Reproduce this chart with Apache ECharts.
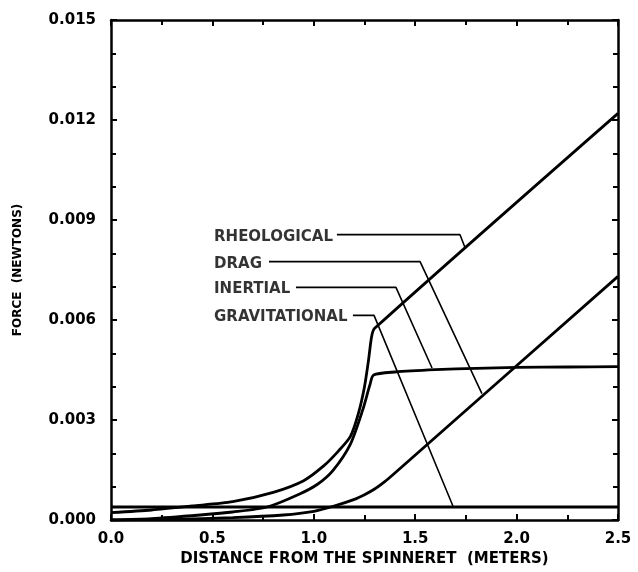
<!DOCTYPE html>
<html>
<head>
<meta charset="utf-8">
<script src="https://cdn.jsdelivr.net/npm/echarts@6/dist/echarts.min.js"></script>
<style>html,body{margin:0;padding:0;background:#fff}#c{width:638px;height:572px}</style>
</head>
<body>
<div id="c"></div>
<script>
// Distance (m) and force (N) for each curve
var rheoX = [0, 0.2, 0.4, 0.6, 0.8, 0.95, 1.05, 1.12, 1.18, 1.22, 1.25, 1.27, 1.285, 1.30, 2.5];
var rheoY = [0.00022, 0.00030, 0.00042, 0.00055, 0.00083, 0.00118, 0.00163, 0.00206, 0.00250, 0.00320, 0.00400, 0.00480, 0.00550, 0.00575, 0.01220];

var inerX = [0, 0.2, 0.44, 0.6, 0.77, 0.93, 1.02, 1.095, 1.18, 1.24, 1.277, 1.295, 1.4, 1.6, 1.8, 2.0, 2.25, 2.5];
var inerY = [0, 0.00004, 0.00015, 0.00024, 0.00039, 0.00078, 0.00108, 0.00149, 0.00227, 0.00328, 0.00406, 0.00435, 0.00444, 0.00451, 0.00455, 0.00458, 0.00459, 0.00460];

var dragX = [0, 0.3, 0.6, 0.85, 1.0, 1.1, 1.2, 1.25, 1.3, 1.35, 1.4, 2.5];
var dragY = [0, 0.00002, 0.00007, 0.00015, 0.00026, 0.00042, 0.00062, 0.00076, 0.00093, 0.00115, 0.00141, 0.00731];

var gravX = [0, 2.5];
var gravY = [0.00039, 0.00039];

// Annotation labels and leader lines (data coordinates)
var labelNames = ['RHEOLOGICAL', 'DRAG', 'INERTIAL', 'GRAVITATIONAL'];
var labelX = [0.508, 0.508, 0.508, 0.508];
var labelY = [0.00850, 0.00769, 0.00692, 0.00608];
var leaderX = [[1.114, 1.721, 1.746], [0.779, 1.524, 1.829], [0.912, 1.405, 1.583], [1.193, 1.297, 1.686]];
var leaderY = [[0.00856, 0.00856, 0.00817], [0.00775, 0.00775, 0.00379], [0.00698, 0.00698, 0.00456], [0.00614, 0.00614, 0.00042]];

var xTicks = [0.0, 0.5, 1.0, 1.5, 2.0, 2.5];
var yTicks = [0.000, 0.003, 0.006, 0.009, 0.012, 0.015];

function pairs(xs, ys) { return xs.map(function (x, i) { return [x, ys[i]]; }); }

var FONT = 'DejaVu Sans';
var chart = echarts.init(document.getElementById('c'), null, { renderer: 'canvas' });

var axisCommon = {
  type: 'value',
  axisLine: { show: true, onZero: false, lineStyle: { color: '#000', width: 2.5 } },
  axisTick: { show: true, inside: true, length: 6, lineStyle: { color: '#000', width: 2 } },
  splitLine: { show: false }
};

var series = [];
var curveStyle = { color: '#000', width: 2.8 };
[[rheoX, rheoY], [inerX, inerY], [dragX, dragY], [gravX, gravY]].forEach(function (c) {
  series.push({
    type: 'line', data: pairs(c[0], c[1]), showSymbol: false, symbol: 'none',
    smooth: 0.25, lineStyle: curveStyle, silent: true, animation: false
  });
});
leaderX.forEach(function (lx, i) {
  series.push({
    type: 'line', data: pairs(lx, leaderY[i]), symbol: 'none', smooth: false,
    lineStyle: { color: '#000', width: 1.6 }, silent: true, animation: false
  });
});
series.push({
  type: 'scatter', symbolSize: 0, animation: false, silent: true,
  data: labelNames.map(function (n, i) { return { value: [labelX[i], labelY[i]], name: n }; }),
  label: {
    show: true, position: 'right', distance: 0, formatter: '{b}',
    fontFamily: FONT, fontWeight: 'bold', fontSize: 15, color: '#000'
  }
});

chart.setOption({
  animation: false,
  grid: { left: 111, right: 20, top: 20, bottom: 49, show: false },
  xAxis: [
    Object.assign({}, axisCommon, {
      position: 'bottom', min: 0, max: 2.5, interval: 0.5,
      minorTick: { show: true, splitNumber: 2, length: 5, lineStyle: { color: '#000', width: 2 } },
      axisLabel: { show: true, margin: 12, fontFamily: FONT, fontWeight: 'bold', fontSize: 15, color: '#000',
        formatter: function (v) { return v.toFixed(1); } },
      name: 'DISTANCE FROM THE SPINNERET  (METERS)', nameLocation: 'middle', nameGap: 32,
      nameTextStyle: { fontFamily: FONT, fontWeight: 'bold', fontSize: 15, color: '#000' }
    }),
    Object.assign({}, axisCommon, {
      position: 'top', min: 0, max: 2.5, interval: 0.5,
      minorTick: { show: true, splitNumber: 2, length: 5, lineStyle: { color: '#000', width: 2 } },
      axisLabel: { show: false }
    })
  ],
  yAxis: [
    Object.assign({}, axisCommon, {
      position: 'left', min: 0, max: 0.015, interval: 0.003,
      minorTick: { show: true, splitNumber: 3, length: 5, lineStyle: { color: '#000', width: 2 } },
      axisLabel: { show: true, margin: 15, fontFamily: FONT, fontWeight: 'bold', fontSize: 15, color: '#000',
        padding: [0, 0, 8, 0],
        formatter: function (v) { return v.toFixed(3); } },
      name: 'FORCE  (NEWTONS)', nameLocation: 'middle', nameGap: 87, nameRotate: 90,
      nameTextStyle: { fontFamily: FONT, fontWeight: 'bold', fontSize: 12, color: '#000', padding: [0, 0, 0, 0] }
    }),
    Object.assign({}, axisCommon, {
      position: 'right', min: 0, max: 0.015, interval: 0.003,
      minorTick: { show: true, splitNumber: 3, length: 5, lineStyle: { color: '#000', width: 2 } },
      axisLabel: { show: false }
    })
  ],
  series: series
});
</script>
</body>
</html>
